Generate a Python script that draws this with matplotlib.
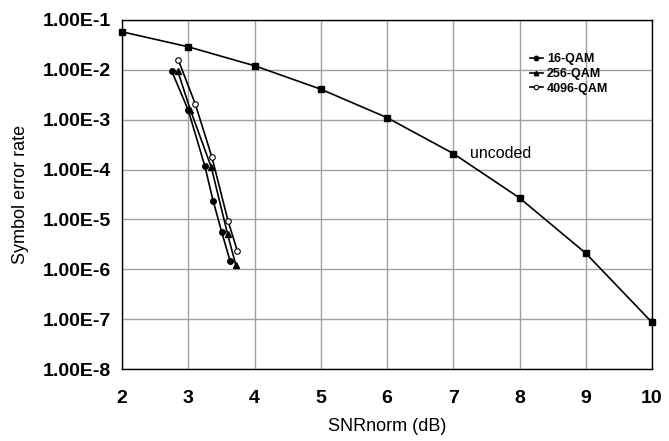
import math
import matplotlib
matplotlib.use("Agg")
import matplotlib.pyplot as plt
from matplotlib.ticker import FixedLocator, FuncFormatter

plt.rcParams['font.family'] = ['Liberation Sans', 'DejaVu Sans']

# Data
uncoded_snr = [2, 3, 4, 5, 6, 7, 8, 9, 10]
uncoded_ser = [5.8e-2, 2.9e-2, 1.21e-2, 4.1e-3, 1.1e-3, 2.1e-4, 2.7e-5, 2.1e-6, 8.6e-8]

qam16_snr = [2.75, 3.0, 3.25, 3.375, 3.505, 3.63]
qam16_ser = [9.5e-3, 1.55e-3, 1.18e-4, 2.38e-5, 5.6e-6, 1.49e-6]

qam256_snr = [2.84, 3.03, 3.348, 3.595, 3.716]
qam256_ser = [9.6e-3, 1.6e-3, 1.11e-4, 5.0e-6, 1.24e-6]

qam4096_snr = [2.85, 3.106, 3.358, 3.60, 3.74]
qam4096_ser = [1.58e-2, 2.07e-3, 1.76e-4, 9.4e-6, 2.36e-6]

xticks = [2, 3, 4, 5, 6, 7, 8, 9, 10]
yticks = [1e-8, 1e-7, 1e-6, 1e-5, 1e-4, 1e-3, 1e-2, 1e-1]

fig = plt.figure(figsize=(6.69, 4.41), dpi=100)
ax = fig.add_axes([122/669, 1-369/441, 530/669, 349/441])

ax.plot(uncoded_snr, uncoded_ser, color='black', lw=1.2, marker='s', ms=4,
        clip_on=False, zorder=3)
ax.plot(qam16_snr, qam16_ser, color='black', lw=1.2, marker='o', ms=4,
        label='16-QAM', zorder=3)
ax.plot(qam256_snr, qam256_ser, color='black', lw=1.2, marker='^', ms=4,
        label='256-QAM', zorder=3)
ax.plot(qam4096_snr, qam4096_ser, color='black', lw=1.2, marker='o', ms=4,
        mfc='white', mew=0.8, label='4096-QAM', zorder=3)

ax.set_yscale('log')
ax.set_xlim(2, 10)
ax.set_ylim(1e-8, 1e-1)
ax.xaxis.set_major_locator(FixedLocator(xticks))
ax.yaxis.set_major_locator(FixedLocator(yticks))
ax.yaxis.set_minor_locator(FixedLocator([]))


def fmt(v, pos):
    e = int(round(math.log10(v)))
    return "1.00E%d" % e


ax.yaxis.set_major_formatter(FuncFormatter(fmt))
ax.grid(True, which='major', color='#a0a0a0', lw=1.0)
ax.set_axisbelow(True)
ax.tick_params(axis='both', which='both', length=0, labelsize=14)
ax.tick_params(axis='y', pad=8)
ax.tick_params(axis='x', pad=15)
for lab in ax.get_xticklabels() + ax.get_yticklabels():
    lab.set_fontweight('bold')
for s in ax.spines.values():
    s.set_color('black')
    s.set_linewidth(1.0)

ax.set_xlabel('SNRnorm (dB)', fontsize=13, labelpad=8)
ax.set_ylabel('Symbol error rate', fontsize=13, labelpad=10)

ax.text(7.26, 2.1e-4, 'uncoded', fontsize=11.5, va='center', ha='left')

ax.legend(loc='upper left', bbox_to_anchor=(0.77, 0.905), frameon=False,
          prop={'weight': 'bold', 'size': 9}, handlelength=1.0,
          handletextpad=0.35, labelspacing=0.22, borderpad=0, borderaxespad=0,
          markerscale=0.8)

fig.savefig('out.png', dpi=100)
